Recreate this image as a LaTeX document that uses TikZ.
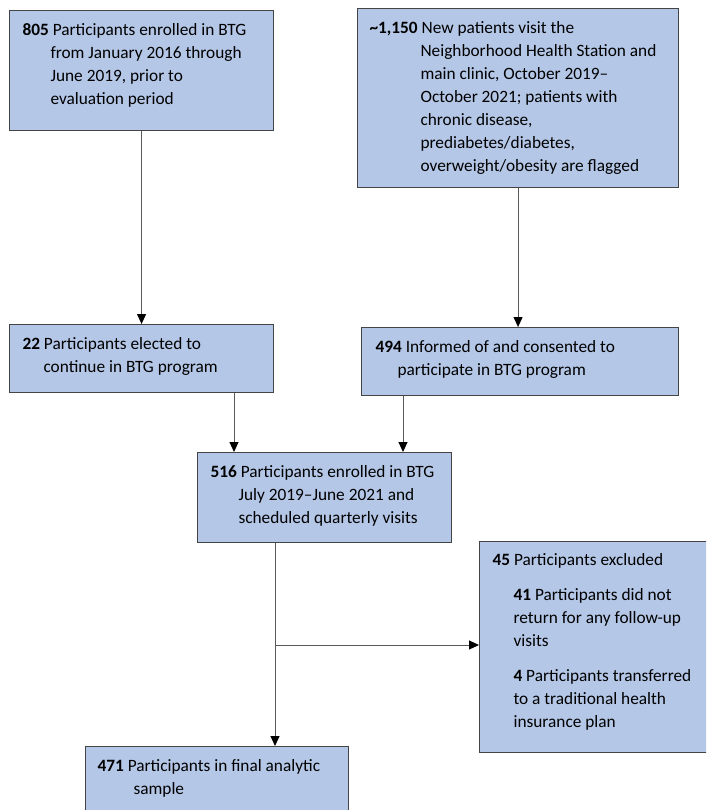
\documentclass[tikz,border=0pt]{standalone}
\usepackage{fontspec}
\setmainfont{Carlito}
\usetikzlibrary{positioning,arrows.meta}
\definecolor{boxfill}{HTML}{B4C7E7}
\definecolor{boxline}{HTML}{444444}
\tikzstyle{flowbox} = [rectangle, draw=boxline, fill=boxfill, line width=1.1pt, anchor=north west, inner sep=0pt, font=\fontsize{17.3}{23}\selectfont]
\tikzstyle{connect} = [line width=1pt, draw=black!65, -{Triangle[length=10pt,width=9pt,color=black]}]
% box text: width, height, left margin, hanging indent, lines
\newcommand{\flowtext}[5]{\parbox[t][#2][t]{#1}{\parindent=0pt\leftskip=#3\rightskip=0pt plus 1fil\vspace*{8.5pt}\hangindent=#4\hangafter=1\strut#5\par}}

\begin{document}
\begin{tikzpicture}[x=1pt,y=-1pt]
\useasboundingbox (0,0) rectangle (706,810);
\clip (0,0) rectangle (706,810);

\node (b805) [flowbox] at (9,10) {\flowtext{264pt}{120pt}{13pt}{28pt}{\textbf{805} Participants enrolled in BTG\\from January 2016 through\\June 2019, prior to\\evaluation period}};
\node (b1150) [flowbox] at (357,8) {\flowtext{321pt}{179pt}{12pt}{51pt}{\textbf{\textasciitilde1,150} New patients visit the\\Neighborhood Health Station and\\main clinic, October 2019–\\October 2021; patients with\\chronic disease,\\prediabetes/diabetes,\\overweight/obesity are flagged}};
\node (b22) [flowbox] at (9,324) {\flowtext{264pt}{68pt}{13pt}{21pt}{\textbf{22} Participants elected to\\continue in BTG program}};
\node (b494) [flowbox] at (361,327) {\flowtext{317pt}{68pt}{14pt}{22pt}{\textbf{494} Informed of and consented to\\participate in BTG program}};
\node (b516) [flowbox] at (197,452) {\flowtext{254pt}{90pt}{13pt}{28pt}{\textbf{516} Participants enrolled in BTG\\July 2019–June 2021 and\\scheduled quarterly visits}};
\node (b45) [flowbox] at (479,541) {\parbox[t][211pt][t]{240pt}{\parindent=0pt\rightskip=0pt plus 1fil\vspace*{8pt}\leftskip=13pt\strut\textbf{45} Participants excluded\par
  \vspace{12pt}\leftskip=34pt\textbf{41} Participants did not\\return for any follow-up\\visits\par
  \vspace{12pt}\textbf{4} Participants transferred\\to a traditional health\\insurance plan\par}};
\node (b471) [flowbox] at (85,746) {\flowtext{263pt}{90pt}{12pt}{36pt}{\textbf{471} Participants in final analytic\\sample}};

\coordinate (leftcol) at (234,0);
\coordinate (rightcol) at (403,0);
\coordinate (midcol) at (275,0);
\coordinate (split) at (275,645);

\draw [connect] (b805) -- (b22);
\draw [connect] (b1150.south) -- (b1150.south |- b494.north);
\draw [connect] (leftcol |- b22.south) -- (leftcol |- b516.north);
\draw [connect] (rightcol |- b494.south) -- (rightcol |- b516.north);
\draw [connect] (midcol |- b516.south) -- (midcol |- b471.north);
\draw [connect] (split) -- (split -| b45.west);
\end{tikzpicture}
\end{document}
